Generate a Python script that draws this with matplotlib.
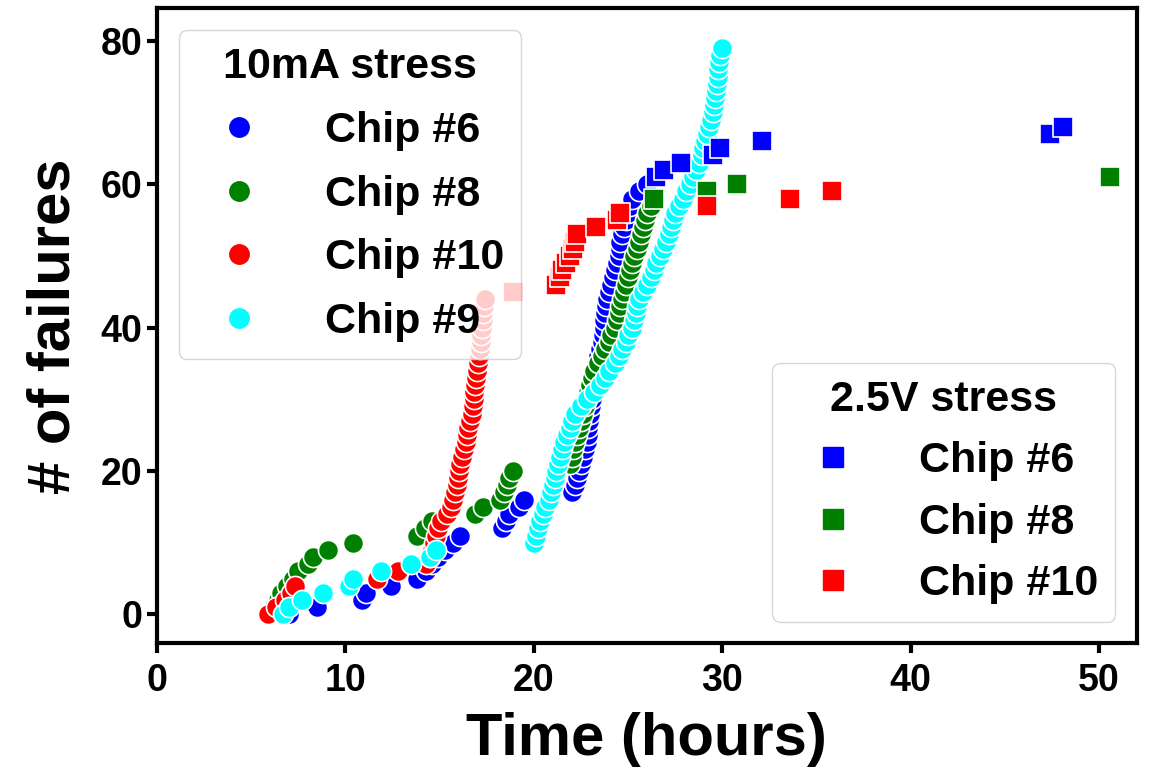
import matplotlib.pyplot as plt
from matplotlib.lines import Line2D

plt.rcParams['font.family'] = ['Liberation Sans', 'DejaVu Sans']
plt.rcParams['font.weight'] = 'bold'

# 10mA stress (circles): time in hours vs cumulative failures
chip6_ma_t = [7.0, 8.5, 10.9, 11.1, 12.4, 13.8, 14.3, 14.6, 14.9, 15.3, 15.7, 16.1, 18.3, 18.5, 18.7, 19.2, 19.5,
              22.0, 22.2, 22.3, 22.4, 22.5, 22.6, 22.7, 22.8, 22.85, 22.9, 22.95, 23.0, 23.05, 23.1, 23.15, 23.2,
              23.25, 23.3, 23.35, 23.4, 23.5, 23.6, 23.65, 23.7, 23.75, 23.8, 23.85, 23.9, 24.0, 24.1, 24.2, 24.3,
              24.4, 24.5, 24.55, 24.6, 24.7, 24.8, 24.9, 25.0, 25.1, 25.2, 25.6, 26.0]
chip6_ma_n = [0, 1, 2, 3, 4, 5, 6, 7, 8, 9, 10, 11, 12, 13, 14, 15, 16,
              17, 18, 19, 20, 21, 22, 23, 24, 25, 26, 27, 28, 29, 30, 31, 32,
              33, 34, 35, 36, 37, 38, 39, 40, 41, 42, 43, 44, 45, 46, 47, 48,
              49, 50, 51, 52, 53, 54, 55, 56, 57, 58, 59, 60]

chip8_ma_t = [6.0, 6.2, 6.4, 6.6, 6.9, 7.2, 7.5, 8.0, 8.3, 9.1, 10.4, 13.8, 14.2, 14.6, 16.9, 17.3, 18.2, 18.4,
              18.6, 18.7, 18.9, 21.9, 22.0, 22.1, 22.2, 22.3, 22.4, 22.5, 22.6, 22.7, 22.8, 22.9, 23.0, 23.1,
              23.2, 23.4, 23.6, 23.8, 24.0, 24.1, 24.3, 24.4, 24.5, 24.6, 24.7, 24.8, 24.9, 25.0, 25.1, 25.2,
              25.3, 25.5, 25.6, 25.7, 25.8, 25.9, 26.0, 26.2]
chip8_ma_n = [0, 1, 2, 3, 4, 5, 6, 7, 8, 9, 10, 11, 12, 13, 14, 15, 16, 17,
              18, 19, 20, 21, 22, 23, 24, 25, 26, 27, 28, 29, 30, 31, 32, 33,
              34, 35, 36, 37, 38, 39, 40, 41, 42, 43, 44, 45, 46, 47, 48, 49,
              50, 51, 52, 53, 54, 55, 56, 57]

chip10_ma_t = [5.9, 6.3, 6.8, 7.1, 7.3, 11.7, 12.8, 14.3, 14.5, 14.6, 14.7, 14.8, 14.9, 15.1, 15.4, 15.6, 15.7,
               15.8, 15.9, 16.0, 16.05, 16.1, 16.2, 16.3, 16.4, 16.45, 16.5, 16.6, 16.7, 16.75, 16.8, 16.85,
               16.9, 16.95, 17.0, 17.05, 17.1, 17.15, 17.2, 17.2, 17.25, 17.3, 17.3, 17.35, 17.4]
chip10_ma_n = [0, 1, 2, 3, 4, 5, 6, 7, 8, 9, 10, 11, 12, 13, 14, 15, 16,
               17, 18, 19, 20, 21, 22, 23, 24, 25, 26, 27, 28, 29, 30, 31,
               32, 33, 34, 35, 36, 37, 38, 39, 40, 41, 42, 43, 44]

chip9_ma_t = [6.7, 7.0, 7.7, 8.8, 10.2, 10.4, 11.9, 13.5, 14.5, 14.8, 20.0, 20.1, 20.2, 20.35, 20.5, 20.6, 20.8,
              20.9, 21.0, 21.1, 21.2, 21.3, 21.4, 21.5, 21.6, 21.75, 21.9, 22.0, 22.2, 22.5, 22.8, 23.2, 23.5,
              23.8, 24.0, 24.3, 24.5, 24.7, 24.9, 25.0, 25.2, 25.3, 25.4, 25.5, 25.6, 25.8, 26.0, 26.2, 26.4,
              26.5, 26.7, 26.85, 27.0, 27.15, 27.3, 27.4, 27.5, 27.7, 27.9, 28.1, 28.3, 28.45, 28.6, 28.75,
              28.9, 29.0, 29.1, 29.2, 29.3, 29.4, 29.5, 29.55, 29.6, 29.65, 29.7, 29.75, 29.8, 29.85, 29.9, 30.0]
chip9_ma_n = [0, 1, 2, 3, 4, 5, 6, 7, 8, 9, 10, 11, 12, 13, 14, 15, 16,
              17, 18, 19, 20, 21, 22, 23, 24, 25, 26, 27, 28, 29, 30, 31, 32,
              33, 34, 35, 36, 37, 38, 39, 40, 41, 42, 43, 44, 45, 46, 47, 48,
              49, 50, 51, 52, 53, 54, 55, 56, 57, 58, 59, 60, 61, 62, 63,
              64, 65, 66, 67, 68, 69, 70, 71, 72, 73, 74, 75, 76, 77, 78, 79]

# 2.5V stress (squares)
chip6_v_t = [26.5, 26.9, 27.8, 29.5, 29.9, 32.1, 47.4, 48.1]
chip6_v_n = [61, 62, 63, 64, 65, 66, 67, 68]
chip8_v_t = [26.4, 29.2, 30.8, 50.6]
chip8_v_n = [58, 59, 60, 61]
chip10_v_t = [18.9, 21.2, 21.4, 21.5, 21.7, 21.9, 22.1, 22.2, 22.3, 23.3, 24.4, 24.6, 29.2, 33.6, 35.8]
chip10_v_n = [45, 46, 47, 48, 49, 50, 51, 52, 53, 54, 55, 56, 57, 58, 59]

ma_labels = ['Chip #6', 'Chip #8', 'Chip #10', 'Chip #9']
ma_colors = ['blue', 'green', 'red', 'cyan']
v_labels = ['Chip #6', 'Chip #8', 'Chip #10']
v_colors = ['blue', 'green', 'red']

fig = plt.figure(figsize=(11.5, 7.72), dpi=100)
ax = fig.add_axes([0.1365, 0.167, 0.852, 0.822])

ma_data = [(chip6_ma_t, chip6_ma_n), (chip8_ma_t, chip8_ma_n),
           (chip10_ma_t, chip10_ma_n), (chip9_ma_t, chip9_ma_n)]
for (t, n), c in zip(ma_data, ma_colors):
    ax.scatter(t, n, s=210, marker='o', color=c, edgecolor='white', linewidth=1.2)

v_data = [(chip6_v_t, chip6_v_n), (chip8_v_t, chip8_v_n), (chip10_v_t, chip10_v_n)]
for (t, n), c in zip(v_data, v_colors):
    ax.scatter(t, n, s=210, marker='s', color=c, edgecolor='white', linewidth=1.2)

ax.set_xlim(0, 52)
ax.set_ylim(-4, 84.5)
ax.set_xticks([0, 10, 20, 30, 40, 50])
ax.set_yticks([0, 20, 40, 60, 80])
ax.tick_params(labelsize=27, width=3, length=7)
ax.tick_params(axis='x', pad=7)
for lbl in ax.get_xticklabels() + ax.get_yticklabels():
    lbl.set_fontweight('bold')
for sp in ax.spines.values():
    sp.set_linewidth(3)
ax.set_xlabel('Time (hours)', fontsize=43, fontweight='bold', labelpad=10)
ax.set_ylabel('# of failures', fontsize=43, fontweight='bold', labelpad=14)

fs = 31
h1 = [Line2D([], [], marker='o', ls='', color=c, markersize=14) for c in ma_colors]
leg1 = ax.legend(h1, ma_labels, title='10mA stress', loc='upper left',
                 prop={'size': fs, 'weight': 'bold'}, handletextpad=1.0, labelspacing=0.55)
leg1.get_title().set_fontsize(fs)
leg1.get_title().set_fontweight('bold')
ax.add_artist(leg1)

h2 = [Line2D([], [], marker='s', ls='', color=c, markersize=14) for c in v_colors]
leg2 = ax.legend(h2, v_labels, title='2.5V stress', loc='lower right',
                 prop={'size': fs, 'weight': 'bold'}, handletextpad=1.0, labelspacing=0.5)
leg2.get_title().set_fontsize(fs)
leg2.get_title().set_fontweight('bold')

fig.savefig('out.png', dpi=100)
